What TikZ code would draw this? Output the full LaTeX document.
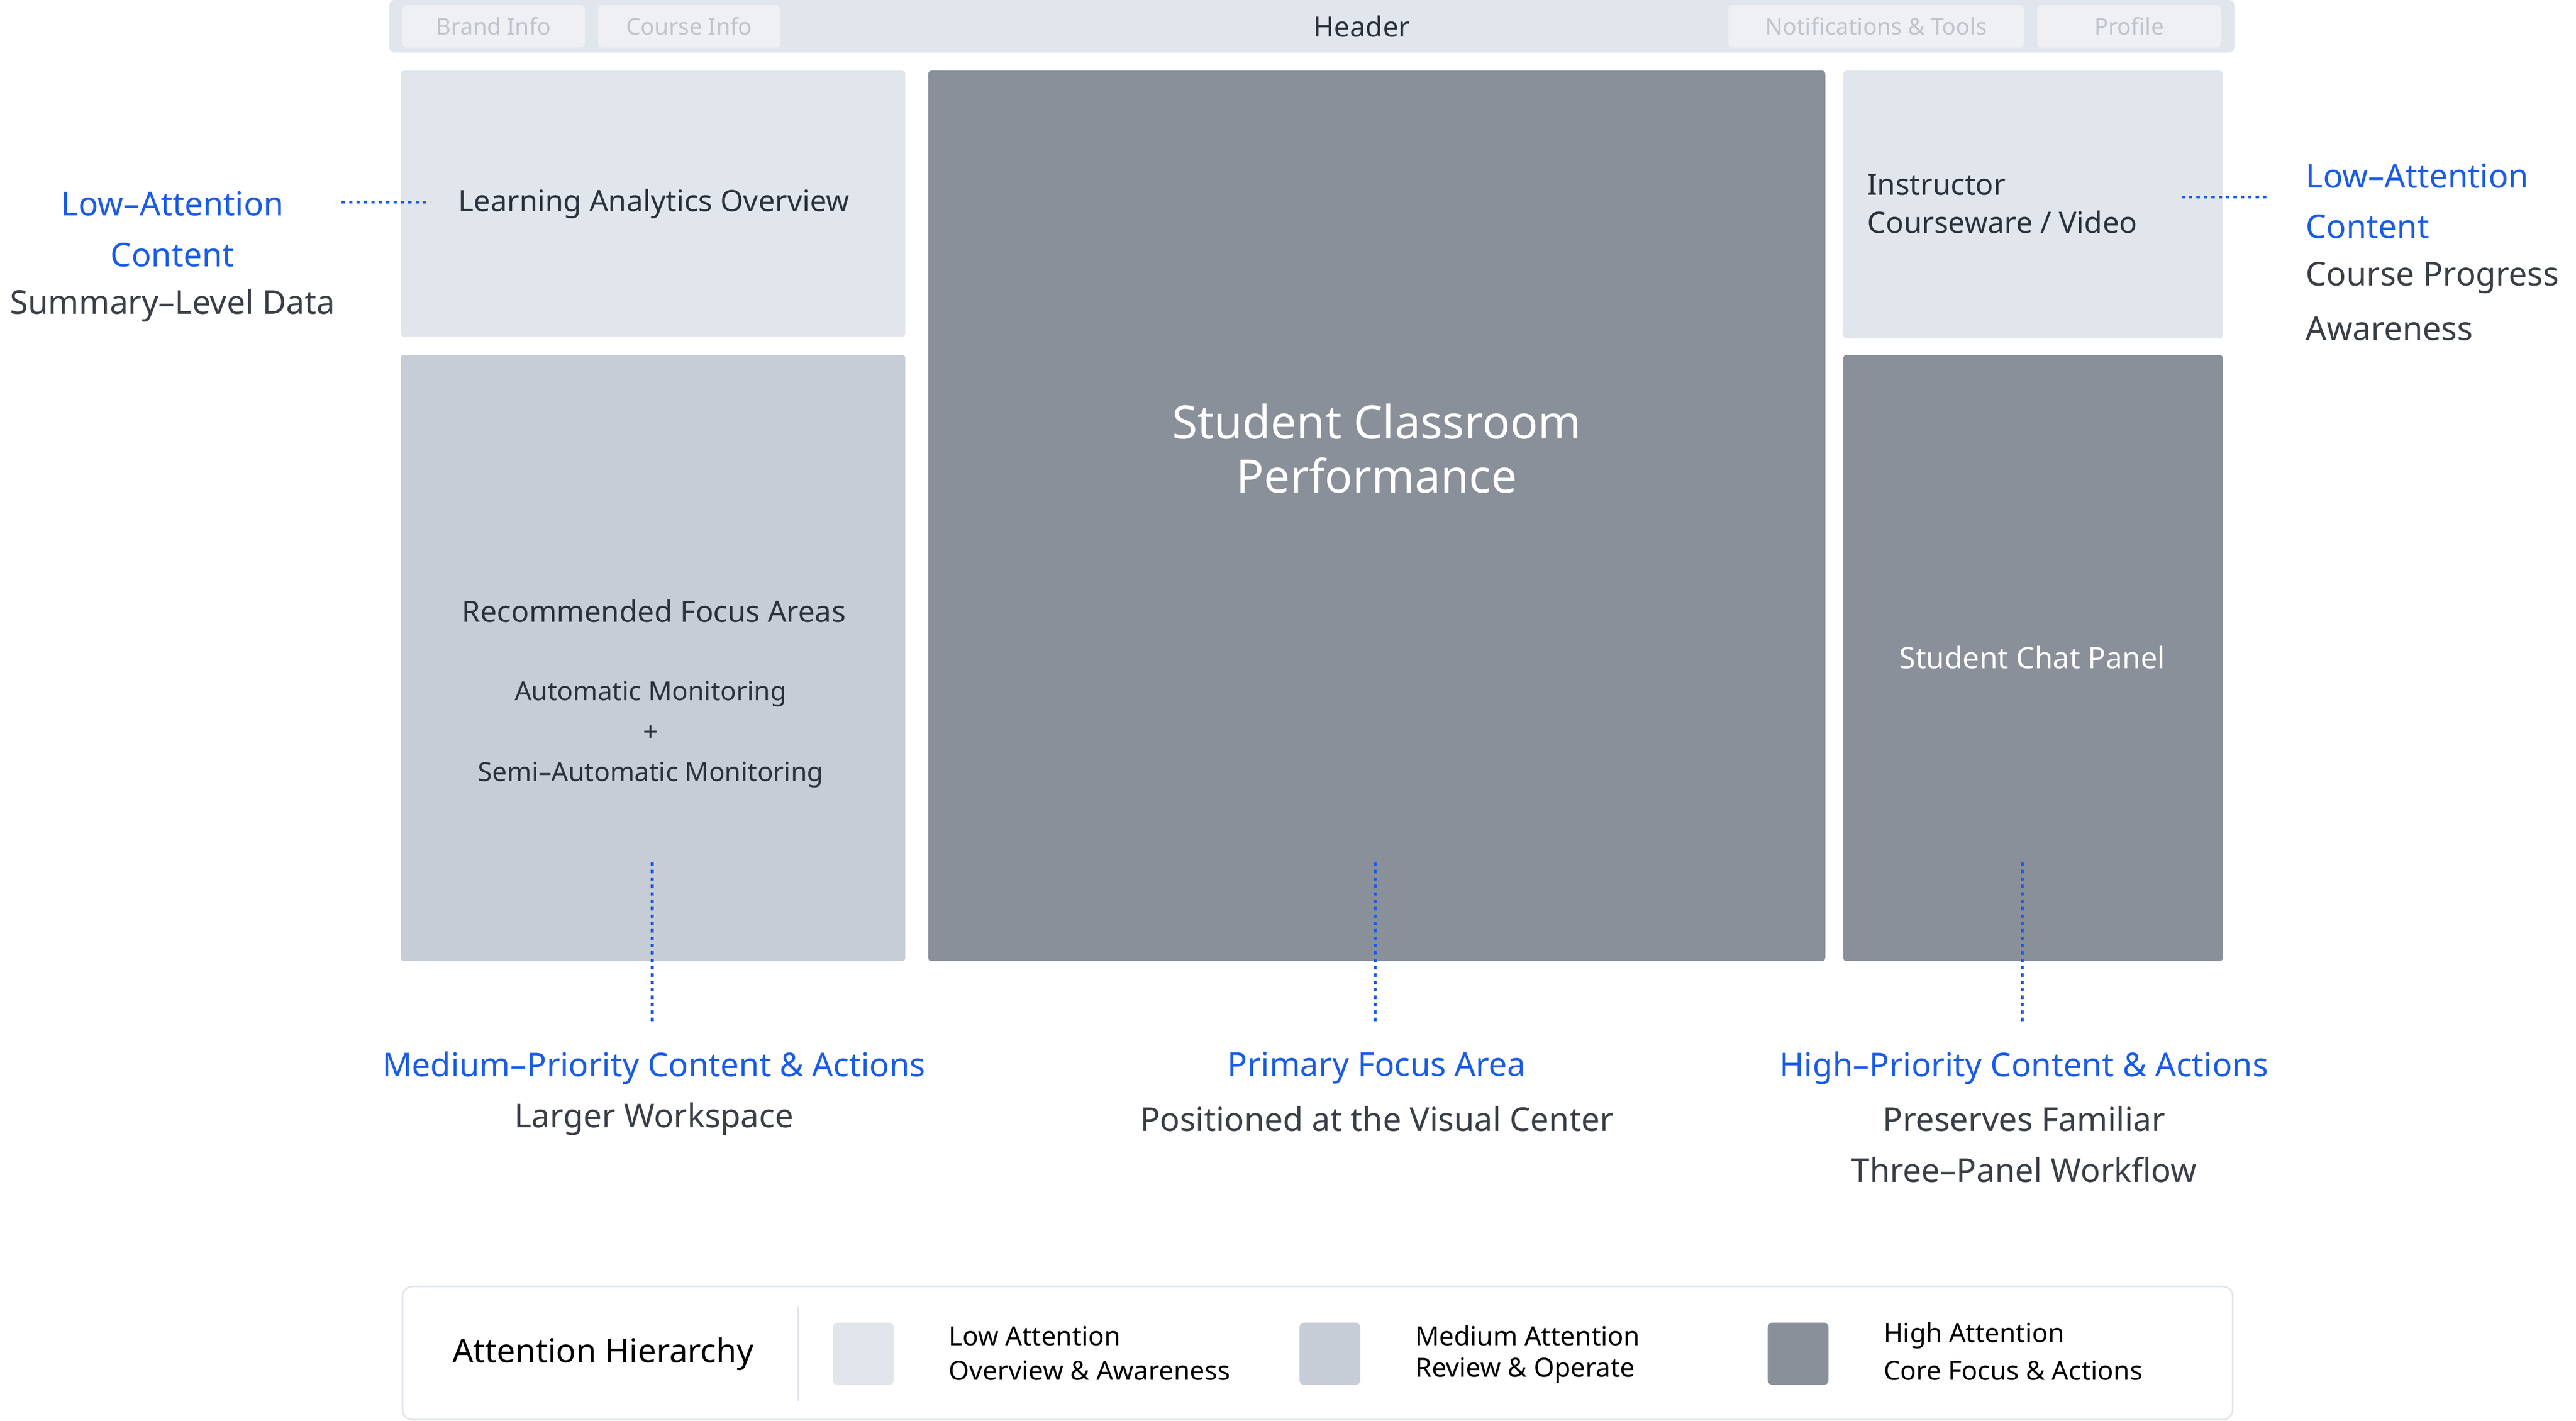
\documentclass[tikz,border=0pt]{standalone}
\usepackage{fontspec}
\setmainfont{Noto Sans}
\usetikzlibrary{positioning}
\definecolor{lowgray}{HTML}{E1E5EC}
\definecolor{midgray}{HTML}{C6CDD6}
\definecolor{highgray}{HTML}{8A9099}
\definecolor{btnfill}{HTML}{EEF0F4}
\definecolor{btntext}{HTML}{BFC4CC}
\definecolor{darktext}{HTML}{2B323D}
\definecolor{softtext}{HTML}{3A3F47}
\definecolor{accent}{HTML}{1A5CE6}
\tikzset{%
    panel/.style={rounded corners=2pt, draw=none},
    button/.style={fill=btnfill, rounded corners=3pt, minimum height=26pt,
        font=\fontsize{14}{16}\selectfont, text=btntext, inner sep=0pt},
    lead/.style={accent, line width=1.6pt, dash pattern=on 2pt off 2.5pt},
    note/.style={font=\fontsize{20}{24}\selectfont, text=accent},
    subnote/.style={font=\fontsize{20}{24}\selectfont, text=softtext},
    boxtext/.style={font=\fontsize{18}{22}\selectfont, text=darktext},
    swatch/.style={rounded corners=3pt, minimum width=37pt, minimum height=38pt},
    keyhead/.style={font=\bfseries\fontsize{16}{18}\selectfont, anchor=west, text=black},
    keytext/.style={font=\fontsize{16}{18}\selectfont, anchor=west, text=black}
}

\begin{document}
\begin{tikzpicture}[x=1pt, y=-1pt]

    \useasboundingbox (0, 0) rectangle (1568, 864.7);

    % Header
    \fill[lowgray, rounded corners=3pt] (237, 0) rectangle (1360, 32);
    \node[button, minimum width=111pt] (brand) at (300.5, 16) {Brand Info};
    \node[button, minimum width=111pt] (course) at (419.5, 16) {Course Info};
    \node[button, minimum width=180pt] (tools) at (1142, 16) {Notifications \& Tools};
    \node[button, minimum width=112pt] (profile) at (1296, 16) {Profile};
    \node[font=\bfseries\fontsize{17}{20}\selectfont, text=darktext] (header) at (829, 16) {Header};

    % Panels
    \fill[panel, lowgray] (244, 43) rectangle (551, 205);
    \fill[panel, midgray] (244, 216) rectangle (551, 585);
    \fill[panel, highgray] (565, 43) rectangle (1111, 585);
    \fill[panel, lowgray] (1122, 43) rectangle (1353, 206);
    \fill[panel, highgray] (1122, 216) rectangle (1353, 585);

    \node[boxtext, font=\bfseries\fontsize{18}{22}\selectfont] (analytics) at (398, 124)
        {Learning Analytics Overview};
    \node[boxtext, font=\bfseries\fontsize{18}{23}\selectfont, align=left, anchor=west]
        (instructor) at (1133, 124) {Instructor\\Courseware / Video};
    \node[boxtext, font=\bfseries\fontsize{18}{22}\selectfont] (focus) at (398, 372)
        {Recommended Focus Areas};
    \node[boxtext, font=\fontsize{16}{24.5}\selectfont, align=center] (monitor) at (396, 447)
        {Automatic Monitoring\\+\\Semi–Automatic Monitoring};
    \node[font=\bfseries\fontsize{28}{33}\selectfont, text=white, align=center] (student)
        at (838, 273) {Student Classroom\\Performance};
    \node[font=\bfseries\fontsize{18}{22}\selectfont, text=white] (chat) at (1237, 400)
        {Student Chat Panel};

    % Leaders
    \coordinate (l-a) at (208, 123);
    \coordinate (l-b) at (262, 123);
    \coordinate (r-a) at (1328, 120);
    \coordinate (r-b) at (1380, 120);
    \draw[lead] (l-a) -- (l-b);
    \draw[lead] (r-a) -- (r-b);
    \foreach \px in {397, 837, 1231}{%
        \draw[lead] (\px, 525) -- (\px, 622);
    };

    % Notes
    \node[note] (low-left) at (105, 124) {Low–Attention};
    \node[note] (low-left-2) at (105, 155) {Content};
    \node[subnote] (low-left-3) at (105, 186) {Summary–Level Data};

    \node[note, anchor=west] (low-right) at (1400, 107) {Low–Attention};
    \node[note, anchor=west] (low-right-2) at (1400, 138) {Content};
    \node[subnote, anchor=west] (low-right-3) at (1400, 169) {Course Progress};
    \node[subnote, anchor=west] (low-right-4) at (1400, 200) {Awareness};

    \node[note] (medium) at (398, 650) {Medium–Priority Content \& Actions};
    \node[subnote] (medium-2) at (398, 681) {Larger Workspace};
    \node[note] (primary) at (838, 650) {Primary Focus Area};
    \node[subnote] (primary-2) at (838, 681) {Positioned at the Visual Center};
    \node[note] (high) at (1232, 650) {High–Priority Content \& Actions};
    \node[subnote] (high-2) at (1232, 681) {Preserves Familiar};
    \node[subnote] (high-3) at (1232, 712) {Three–Panel Workflow};

    % Legend
    \draw[draw=lowgray, fill=white, rounded corners=6pt, line width=1pt]
        (245, 783) rectangle (1359, 864);
    \node[font=\bfseries\fontsize{20}{24}\selectfont, text=black] (hierarchy) at (367, 824)
        {Attention Hierarchy};
    \draw[lowgray, line width=1pt] (486, 795) -- (486, 853);

    \node[swatch, fill=lowgray] (key-low) at (525.5, 824) {};
    \node[swatch, fill=midgray] (key-mid) at (809.5, 824) {};
    \node[swatch, fill=highgray] (key-high) at (1094.5, 824) {};

    \node[keyhead] (low-head) at (574, 813) {Low Attention};
    \node[keytext] (low-text) at (574, 834) {Overview \& Awareness};
    \node[keyhead] (mid-head) at (858, 813) {Medium Attention};
    \node[keytext] (mid-text) at (858, 834) {Review \& Operate};
    \node[keyhead] (high-head) at (1143, 813) {High Attention};
    \node[keytext] (high-text) at (1143, 834) {Core Focus \& Actions};

\end{tikzpicture}
\end{document}
